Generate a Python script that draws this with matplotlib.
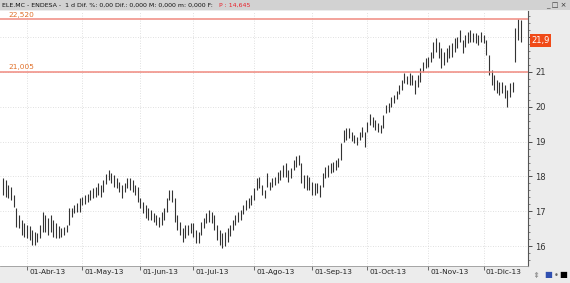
import matplotlib
matplotlib.use("Agg")
import matplotlib.pyplot as plt
import pandas as pd
from matplotlib.patches import Rectangle
from matplotlib.ticker import MultipleLocator
from matplotlib.transforms import blended_transform_factory

W, H = 570, 283

# trading days (Madrid exchange closed on Good Friday, Easter Monday, 1 May)
holidays = ["2013-03-29", "2013-04-01", "2013-05-01"]
dates = pd.bdate_range("2013-03-18", "2013-12-20").drop(pd.to_datetime(holidays))

highs = [
    17.95, 17.90, 17.75, 17.70, 17.47, 17.09, 16.89, 16.75, 16.66, 16.60,
    16.58, 16.46, 16.40, 16.37, 16.60, 16.98, 16.89, 16.80, 16.89, 16.75,
    16.66, 16.58, 16.52, 16.55, 16.60, 17.09, 17.09, 17.18, 17.24, 17.38,
    17.41, 17.47, 17.49, 17.61, 17.67, 17.70, 17.81, 17.75, 17.90, 18.07,
    18.18, 18.10, 18.04, 17.95, 17.84, 17.75, 17.81, 17.95, 17.95, 17.90,
    17.75, 17.70, 17.38, 17.27, 17.18, 17.09, 17.03, 16.95, 16.89, 16.83,
    16.98, 17.09, 17.38, 17.61, 17.61, 17.38, 16.89, 16.69, 16.52, 16.60,
    16.60, 16.66, 16.66, 16.46, 16.40, 16.69, 16.80, 16.95, 17.03, 16.98,
    16.89, 16.60, 16.46, 16.37, 16.40, 16.52, 16.60, 16.75, 16.89, 16.98,
    17.03, 17.18, 17.32, 17.38, 17.47, 17.67, 17.95, 17.98, 17.75, 17.61,
    18.10, 17.84, 17.95, 17.98, 18.13, 18.18, 18.33, 18.39, 18.18, 18.24,
    18.47, 18.58, 18.61, 18.39, 18.04, 18.04, 17.98, 17.84, 17.81, 17.81,
    17.75, 18.10, 18.27, 18.33, 18.39, 18.41, 18.47, 18.53, 18.96, 19.33,
    19.39, 19.39, 19.28, 19.19, 19.13, 19.28, 19.42, 19.28, 19.56, 19.79,
    19.71, 19.62, 19.53, 19.48, 19.76, 20.05, 20.11, 20.28, 20.34, 20.45,
    20.63, 20.77, 20.97, 20.89, 20.97, 20.91, 20.77, 20.91, 21.11, 21.29,
    21.40, 21.43, 21.57, 21.86, 21.98, 21.86, 21.69, 21.57, 21.69, 21.78,
    21.83, 21.98, 22.01, 22.21, 21.92, 22.06, 22.15, 22.21, 22.12, 22.12,
    22.06, 22.15, 22.06, 21.92, 21.49, 21.06, 20.91, 20.77, 20.71, 20.71,
    20.63, 20.48, 20.68, 20.71, 22.26, 22.52, 22.50,
]
lows = [
    17.47, 17.41, 17.38, 17.32, 17.12, 16.55, 16.52, 16.32, 16.26, 16.23,
    16.17, 16.03, 16.03, 16.11, 16.23, 16.40, 16.40, 16.32, 16.40, 16.26,
    16.23, 16.23, 16.26, 16.32, 16.40, 16.60, 16.83, 16.95, 16.98, 16.98,
    17.18, 17.21, 17.27, 17.32, 17.38, 17.41, 17.47, 17.41, 17.55, 17.78,
    17.90, 17.81, 17.70, 17.67, 17.55, 17.38, 17.55, 17.67, 17.61, 17.55,
    17.47, 17.27, 17.09, 16.95, 16.80, 16.75, 16.75, 16.69, 16.60, 16.55,
    16.60, 16.75, 16.98, 17.32, 17.27, 16.69, 16.46, 16.32, 16.11, 16.23,
    16.32, 16.37, 16.26, 16.09, 16.09, 16.32, 16.52, 16.66, 16.69, 16.66,
    16.46, 16.17, 16.03, 15.94, 16.00, 16.11, 16.29, 16.46, 16.60, 16.69,
    16.75, 16.92, 17.03, 17.09, 17.18, 17.32, 17.61, 17.67, 17.47, 17.38,
    17.70, 17.61, 17.70, 17.75, 17.81, 17.90, 17.98, 17.98, 17.84, 17.95,
    18.18, 18.27, 18.33, 17.81, 17.67, 17.61, 17.61, 17.47, 17.47, 17.52,
    17.41, 17.70, 17.95, 17.98, 18.10, 18.13, 18.18, 18.27, 18.47, 18.99,
    19.05, 19.10, 19.02, 18.96, 18.90, 19.05, 19.13, 18.85, 19.28, 19.48,
    19.42, 19.33, 19.28, 19.25, 19.39, 19.82, 19.85, 19.99, 20.11, 20.22,
    20.37, 20.48, 20.68, 20.66, 20.63, 20.63, 20.37, 20.57, 20.71, 21.00,
    21.11, 21.14, 21.29, 21.40, 21.57, 21.40, 21.11, 21.20, 21.29, 21.40,
    21.43, 21.57, 21.69, 21.86, 21.55, 21.72, 21.83, 21.86, 21.86, 21.83,
    21.78, 21.86, 21.83, 21.49, 20.91, 20.63, 20.48, 20.40, 20.34, 20.40,
    20.25, 19.99, 20.28, 20.43, 21.29, 21.92, 21.86,
]

last_price = 21.9
level_lines = [22.52, 21.005]
level_labels = ["22,520", "21,005"]
month_abbr = ["Abr", "May", "Jun", "Jul", "Ago", "Sep", "Oct", "Nov", "Dic"]
header = "ELE.MC - ENDESA -  1 d Dif. %: 0,00 Dif.: 0,000 M: 0,000 m: 0,000 F:"
header_price = "P : 14,645"

plt.rcParams["font.family"] = ["DejaVu Sans"]
fig = plt.figure(figsize=(W / 100, H / 100), dpi=100, facecolor="#ececec")

# title bar
fig.add_artist(Rectangle((0, 1 - 10 / H), 1, 10 / H, transform=fig.transFigure,
                         facecolor="#d2d2d2", edgecolor="none"))
t = fig.text(2 / W, 1 - 5.5 / H, header, fontsize=4.5, va="center", color="#111")
r = fig.canvas.get_renderer()
x_end = t.get_window_extent(r).x1
fig.text((x_end + 6) / W, 1 - 5.5 / H, header_price, fontsize=4.5, va="center",
         color="#e8202a")
fig.text(546 / W, 1 - 5.5 / H, "_ □ ×", fontsize=5, va="center", color="#333")

ax = fig.add_axes([0, 17 / H, 528 / W, 255 / H], facecolor="white")
x = list(range(len(dates)))
ax.vlines(x, lows, highs, color="#333333", lw=0.8)

ax.set_xlim(-1.2, 198.8)
ax.set_ylim(15.43, 22.75)

# month ticks at the first trading day of each month
month_pos = []
for m in range(4, 13):
    start = pd.Timestamp(2013, m, 1)
    month_pos.append(int((dates >= start).argmax()))
ax.set_xticks(month_pos)
ax.set_xticklabels([])
xt = ax.get_xaxis_transform()
for p, name in zip(month_pos, month_abbr):
    ax.text(p + 0.8, -0.012, f"01-{name}-13", transform=xt, fontsize=5.3,
            ha="left", va="top", color="#222", clip_on=False)

ax.yaxis.tick_right()
ax.yaxis.set_major_locator(MultipleLocator(1))
ax.yaxis.set_minor_locator(MultipleLocator(0.2))
ax.tick_params(axis="y", which="major", length=3, width=0.6, labelsize=6,
               colors="#333", pad=2)
ax.tick_params(axis="y", which="minor", length=1.5, width=0.5, colors="#555")
ax.tick_params(axis="x", length=3, width=0.6, colors="#555")

ax.grid(True, which="major", color="#d6d6d6", linestyle=(0, (1, 2)), lw=0.6)
ax.set_axisbelow(True)

for s in ["top", "left"]:
    ax.spines[s].set_visible(False)
ax.spines["right"].set_color("#555")
ax.spines["right"].set_linewidth(0.8)
ax.spines["bottom"].set_color("#999")
ax.spines["bottom"].set_linewidth(0.6)

for lvl, lab in zip(level_lines, level_labels):
    ax.axhline(lvl, color="#f08a80", lw=1.1, zorder=3)
    ax.text(2.0, lvl + 0.04, lab, fontsize=5.3, color="#e0702a", va="bottom")

# the "22" tick label sits under the last-price box, as in the source chart
for lbl in ax.get_yticklabels():
    if lbl.get_text() == "22":
        lbl.set_visible(False)

bt = blended_transform_factory(ax.transAxes, ax.transData)
ax.text(1.006, last_price, "21,9", transform=bt, fontsize=6, color="white",
        ha="left", va="center", clip_on=False, zorder=5,
        bbox=dict(facecolor="#f04a18", edgecolor="none", pad=1.2))

# little toolbar glyphs in the lower right corner
for px, ch, col in [(536, "⇞", "#888"), (548, "■", "#3050b0"),
                    (556, "•", "#666"), (563, "■", "#000")]:
    fig.text(px / W, 8 / H, ch, fontsize=6, ha="center", va="center", color=col)

fig.savefig("out.png", dpi=100, facecolor=fig.get_facecolor())
